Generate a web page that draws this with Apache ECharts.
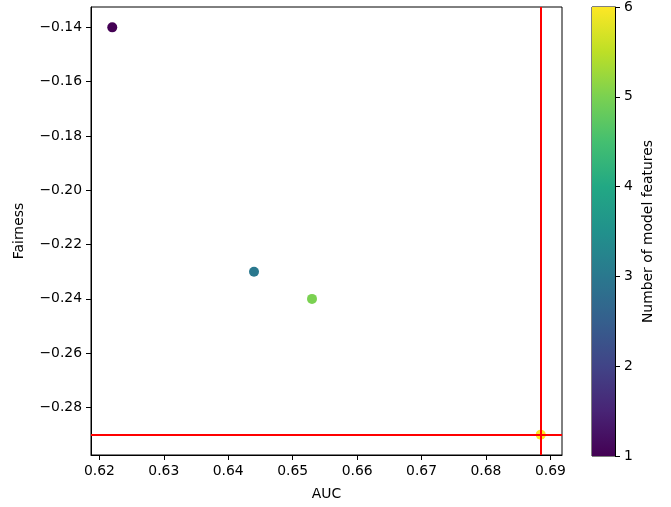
<!DOCTYPE html>
<html>
<head>
<meta charset="utf-8">
<script src="https://cdn.jsdelivr.net/npm/echarts@6/dist/echarts.min.js"></script>
<style>
  html, body { margin: 0; padding: 0; background: #fff; }
  #chart { width: 671px; height: 507px; }
</style>
</head>
<body>
<div id="chart"></div>
<script>
// data
var auc = [0.622, 0.644, 0.653, 0.6885]
var fairness = [-0.14, -0.23, -0.24, -0.29]
var nFeatures = [1, 3, 5, 6]
var bestAuc = 0.6885
var bestFairness = -0.29
var xTicks = [0.62, 0.63, 0.64, 0.65, 0.66, 0.67, 0.68, 0.69]
var yTicks = [-0.28, -0.26, -0.24, -0.22, -0.20, -0.18, -0.16, -0.14]
var cbTicks = [1, 2, 3, 4, 5, 6]

var viridis = ['#440154', '#482475', '#414487', '#355f8d', '#2a788e', '#21918c',
  '#22a884', '#44bf70', '#7ad151', '#bddf26', '#fde725']

var FONT = 'DejaVu Sans'
var FS = 13.9

function minus (v, d) {
  var s = Math.abs(v).toFixed(d)
  return v < 0 ? '\u2212' + s : s
}

var points = auc.map(function (a, i) { return [a, fairness[i], nFeatures[i]] })

var chart = echarts.init(document.getElementById('chart'))

var axisCommon = {
  axisLine: { show: true, onZero: false, lineStyle: { color: '#000', width: 1 } },
  axisTick: { show: true, inside: false, length: 5, lineStyle: { color: '#000', width: 1 } },
  splitLine: { show: false }
}

chart.setOption({
  animation: false,
  textStyle: { fontFamily: FONT },
  grid: [
    { left: 91, top: 7, right: 109, bottom: 52, show: true, borderColor: '#000', borderWidth: 1 },
    { left: 592, top: 7, width: 23, bottom: 51, show: true, borderColor: '#000', borderWidth: 1 }
  ],
  xAxis: [
    Object.assign({}, axisCommon, {
      type: 'value',
      gridIndex: 0,
      min: 0.6187,
      max: 0.6918,
      name: 'AUC',
      nameLocation: 'middle',
      nameGap: 32,
      nameTextStyle: { color: '#000', fontSize: FS, fontFamily: FONT },
      axisTick: Object.assign({}, axisCommon.axisTick, { customValues: xTicks }),
      axisLabel: {
        customValues: xTicks,
        color: '#000', fontSize: FS, fontFamily: FONT, margin: 9,
        formatter: function (v) { return v.toFixed(2) }
      }
    }),
    {
      type: 'value', gridIndex: 1, min: 0, max: 1, show: false
    }
  ],
  yAxis: [
    Object.assign({}, axisCommon, {
      type: 'value',
      gridIndex: 0,
      min: -0.2975,
      max: -0.1325,
      name: 'Fairness',
      nameLocation: 'middle',
      nameRotate: 90,
      nameGap: 65,
      nameTextStyle: { color: '#000', fontSize: FS, fontFamily: FONT },
      axisTick: Object.assign({}, axisCommon.axisTick, { customValues: yTicks }),
      axisLabel: {
        customValues: yTicks,
        color: '#000', fontSize: FS, fontFamily: FONT, margin: 9,
        formatter: function (v) { return minus(v, 2) }
      }
    }),
    Object.assign({}, axisCommon, {
      type: 'value',
      gridIndex: 1,
      position: 'right',
      min: 1,
      max: 6,
      interval: 1,
      name: 'Number of model features',
      nameLocation: 'middle',
      nameRotate: 90,
      nameGap: 26,
      nameTextStyle: { color: '#000', fontSize: FS, fontFamily: FONT },
      axisLabel: {
        color: '#000', fontSize: FS, fontFamily: FONT, margin: 9,
        formatter: function (v) { return String(v) }
      }
    })
  ],
  visualMap: {
    show: false,
    type: 'continuous',
    seriesIndex: 0,
    dimension: 2,
    min: cbTicks[0],
    max: cbTicks[cbTicks.length - 1],
    inRange: { color: viridis }
  },
  series: [
    {
      type: 'scatter',
      xAxisIndex: 0,
      yAxisIndex: 0,
      symbolSize: 10,
      itemStyle: { opacity: 1 },
      data: points,
      z: 2,
      markLine: {
        silent: true,
        symbol: 'none',
        precision: 6,
        label: { show: false },
        lineStyle: { color: '#ff0000', width: 2, type: 'solid' },
        data: [{ xAxis: bestAuc }, { yAxis: bestFairness }]
      }
    },
    {
      type: 'custom',
      xAxisIndex: 1,
      yAxisIndex: 1,
      silent: true,
      data: [[0, cbTicks[0], 1, cbTicks[cbTicks.length - 1]]],
      renderItem: function (params, api) {
        var p0 = api.coord([api.value(0), api.value(1)])
        var p1 = api.coord([api.value(2), api.value(3)])
        return {
          type: 'rect',
          shape: { x: p0[0], y: p1[1], width: p1[0] - p0[0], height: p0[1] - p1[1] },
          style: {
            fill: new echarts.graphic.LinearGradient(0, 1, 0, 0, viridis.map(function (c, i) {
              return { offset: i / (viridis.length - 1), color: c }
            }))
          }
        }
      },
      z: 1
    }
  ]
})
</script>
</body>
</html>
